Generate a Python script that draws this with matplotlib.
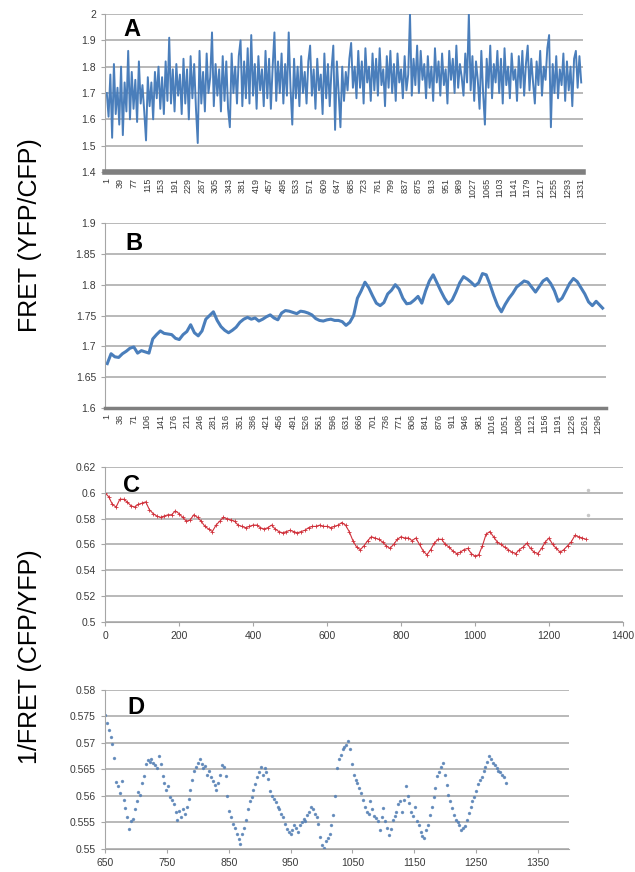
# Four stacked FRET traces (A/B raw and smoothed, C/D inverse ratio)
import numpy as np
import matplotlib
matplotlib.use("Agg")
import matplotlib.pyplot as plt

W, H = 635, 872

# A: raw FRET (YFP/CFP), one value read every 5th frame
a_step = 5
a_vals = [
    1.70, 1.61, 1.77, 1.53, 1.81, 1.62, 1.72, 1.58, 1.80, 1.54, 1.74, 1.63, 1.86, 1.60, 1.78, 1.64, 1.75, 1.59, 1.82, 1.66,
    1.73, 1.63, 1.52, 1.76, 1.65, 1.74, 1.60, 1.78, 1.68, 1.80, 1.64, 1.76, 1.62, 1.82, 1.67, 1.91, 1.66, 1.79, 1.63, 1.81,
    1.69, 1.77, 1.62, 1.83, 1.66, 1.79, 1.60, 1.84, 1.68, 1.81, 1.64, 1.51, 1.86, 1.66, 1.78, 1.63, 1.85, 1.70, 1.76, 1.93,
    1.65, 1.81, 1.69, 1.79, 1.63, 1.84, 1.67, 1.82, 1.64, 1.57, 1.85, 1.70, 1.80, 1.66, 1.84, 1.90, 1.65, 1.82, 1.68, 1.87,
    1.66, 1.92, 1.69, 1.81, 1.64, 1.84, 1.71, 1.79, 1.65, 1.86, 1.68, 1.83, 1.64, 1.80, 1.93, 1.67, 1.82, 1.70, 1.85, 1.66,
    1.81, 1.69, 1.93, 1.72, 1.58, 1.83, 1.68, 1.80, 1.65, 1.84, 1.70, 1.78, 1.66, 1.82, 1.88, 1.69, 1.79, 1.64, 1.83, 1.71,
    1.77, 1.62, 1.85, 1.68, 1.81, 1.65, 1.79, 1.88, 1.56, 1.82, 1.70, 1.57, 1.80, 1.67, 1.78, 1.71, 1.83, 1.89, 1.72, 1.80,
    1.68, 1.86, 1.72, 1.82, 1.66, 1.87, 1.74, 1.80, 1.67, 1.85, 1.71, 1.83, 1.69, 1.87, 1.73, 1.79, 1.65, 1.84, 1.72, 1.86,
    1.70, 1.81, 1.67, 1.85, 1.74, 1.79, 1.68, 1.84, 1.71, 1.77, 2.00, 1.69, 1.83, 1.73, 1.88, 1.70, 1.86, 1.75, 1.81, 1.68,
    1.84, 1.72, 1.80, 1.67, 1.87, 1.74, 1.82, 1.69, 1.85, 1.73, 1.79, 1.66, 1.86, 1.75, 1.83, 1.70, 1.88, 1.72, 1.81, 1.76,
    1.69, 1.85, 1.74, 2.00, 1.71, 1.84, 1.67, 1.82, 1.75, 1.64, 1.86, 1.70, 1.58, 1.83, 1.72, 1.88, 1.68, 1.81, 1.74, 1.86,
    1.70, 1.83, 1.66, 1.87, 1.73, 1.80, 1.68, 1.85, 1.75, 1.79, 1.67, 1.84, 1.72, 1.86, 1.69, 1.81, 1.88, 1.71, 1.83, 1.74,
    1.66, 1.82, 1.73, 1.86, 1.69, 1.80, 1.75, 1.87, 1.92, 1.57, 1.81, 1.70, 1.84, 1.68, 1.79, 1.73, 1.85, 1.67, 1.82, 1.71,
    1.80, 1.65, 1.83, 1.86, 1.72, 1.84, 1.74,
]
a_ticks = list(range(1, 1332, 38))
a_yticks = [1.4, 1.5, 1.6, 1.7, 1.8, 1.9, 2.0]
a_ylabels = ["1.4", "1.5", "1.6", "1.7", "1.8", "1.9", "2"]

# B: smoothed FRET, one value every 10th frame (last one at frame 1308)
b_step = 10
b_last = 1308
b_vals = [
    1.672, 1.688, 1.683, 1.682, 1.688, 1.692, 1.697, 1.699, 1.689, 1.693, 1.691, 1.689, 1.712, 1.719, 1.725, 1.721,
    1.720, 1.719, 1.713, 1.711, 1.719, 1.724, 1.735, 1.722, 1.717, 1.725, 1.744, 1.750, 1.756, 1.742, 1.732, 1.726,
    1.722, 1.726, 1.731, 1.739, 1.744, 1.747, 1.744, 1.746, 1.741, 1.744, 1.748, 1.751, 1.746, 1.743, 1.754, 1.758,
    1.757, 1.755, 1.753, 1.757, 1.756, 1.754, 1.751, 1.745, 1.742, 1.741, 1.743, 1.744, 1.742, 1.742, 1.740, 1.734,
    1.739, 1.750, 1.778, 1.790, 1.804, 1.795, 1.782, 1.770, 1.766, 1.771, 1.785, 1.791, 1.800, 1.793, 1.778, 1.769,
    1.770, 1.775, 1.781, 1.770, 1.790, 1.806, 1.816, 1.803, 1.790, 1.778, 1.769, 1.775, 1.788, 1.803, 1.813, 1.809,
    1.804, 1.798, 1.803, 1.818, 1.816, 1.800, 1.782, 1.766, 1.756, 1.768, 1.778, 1.786, 1.796, 1.801, 1.806, 1.804,
    1.796, 1.788, 1.797, 1.806, 1.810, 1.802, 1.790, 1.773, 1.778, 1.790, 1.802, 1.810, 1.805, 1.795, 1.785, 1.772,
    1.766, 1.773, 1.762,
]
b_ticks = list(range(1, 1297, 35))
b_yticks = [1.6, 1.65, 1.7, 1.75, 1.8, 1.85, 1.9]
b_ylabels = ["1.6", "1.65", "1.7", "1.75", "1.8", "1.85", "1.9"]

# C: 1/FRET (CFP/YFP), one value every 10th frame from frame 0
c_step = 10
c_vals = [
    0.600, 0.597, 0.591, 0.589, 0.595, 0.595, 0.593, 0.590, 0.589, 0.591, 0.592, 0.593, 0.587, 0.584, 0.582, 0.581,
    0.582, 0.583, 0.583, 0.586, 0.584, 0.581, 0.578, 0.579, 0.583, 0.581, 0.578, 0.574, 0.572, 0.570, 0.575, 0.578,
    0.581, 0.580, 0.579, 0.578, 0.575, 0.574, 0.573, 0.574, 0.575, 0.575, 0.573, 0.572, 0.573, 0.575, 0.572, 0.570,
    0.569, 0.570, 0.571, 0.570, 0.569, 0.570, 0.571, 0.573, 0.574, 0.574, 0.575, 0.574, 0.574, 0.573, 0.574, 0.575,
    0.577, 0.575, 0.570, 0.563, 0.558, 0.556, 0.559, 0.563, 0.566, 0.565, 0.564, 0.562, 0.559, 0.557, 0.560, 0.564,
    0.566, 0.565, 0.565, 0.563, 0.565, 0.560, 0.555, 0.552, 0.556, 0.561, 0.564, 0.564, 0.560, 0.558, 0.555, 0.553,
    0.554, 0.556, 0.557, 0.553, 0.551, 0.552, 0.559, 0.568, 0.570, 0.566, 0.562, 0.560, 0.558, 0.556, 0.554, 0.553,
    0.556, 0.558, 0.561, 0.557, 0.554, 0.553, 0.557, 0.562, 0.565, 0.560, 0.557, 0.554, 0.556, 0.559, 0.562, 0.567,
    0.566, 0.565, 0.564,
]
c_stray_x = [1305, 1305]
c_stray_y = [0.602, 0.583]
c_xticks = [0, 200, 400, 600, 800, 1000, 1200, 1400]
c_yticks = [0.5, 0.52, 0.54, 0.56, 0.58, 0.6, 0.62]
c_ylabels = ["0.5", "0.52", "0.54", "0.56", "0.58", "0.6", "0.62"]

# D: close-up of C from frame 650, one point every 3rd frame
d_start = 650
d_step = 3
d_vals = [
    0.5752, 0.5738, 0.5725, 0.5712, 0.5698, 0.5672, 0.5626, 0.5618, 0.5605, 0.5628, 0.5592, 0.5578, 0.5560, 0.5538,
    0.5552, 0.5556, 0.5575, 0.5590, 0.5608, 0.5601, 0.5625, 0.5638, 0.5660, 0.5668, 0.5665, 0.5670, 0.5662, 0.5658,
    0.5652, 0.5676, 0.5660, 0.5638, 0.5625, 0.5612, 0.5618, 0.5598, 0.5592, 0.5585, 0.5570, 0.5555, 0.5572, 0.5560,
    0.5575, 0.5566, 0.5580, 0.5595, 0.5612, 0.5630, 0.5648, 0.5655, 0.5662, 0.5670, 0.5660, 0.5652, 0.5656, 0.5640,
    0.5648, 0.5635, 0.5628, 0.5620, 0.5612, 0.5625, 0.5640, 0.5658, 0.5655, 0.5637, 0.5600, 0.5572, 0.5560, 0.5548,
    0.5540, 0.5528, 0.5518, 0.5510, 0.5528, 0.5540, 0.5555, 0.5575, 0.5590, 0.5598, 0.5612, 0.5622, 0.5635, 0.5645,
    0.5655, 0.5640, 0.5652, 0.5645, 0.5632, 0.5610, 0.5600, 0.5594, 0.5588, 0.5580, 0.5575, 0.5566, 0.5560, 0.5548,
    0.5538, 0.5532, 0.5528, 0.5535, 0.5545, 0.5540, 0.5532, 0.5546, 0.5550, 0.5556, 0.5552, 0.5565, 0.5570, 0.5580,
    0.5575, 0.5566, 0.5560, 0.5548, 0.5522, 0.5508, 0.5502, 0.5515, 0.5520, 0.5528, 0.5545, 0.5565, 0.5600, 0.5652,
    0.5670, 0.5678, 0.5688, 0.5692, 0.5697, 0.5703, 0.5688, 0.5660, 0.5640, 0.5630, 0.5625, 0.5615, 0.5605, 0.5592,
    0.5580, 0.5570, 0.5566, 0.5590, 0.5575, 0.5562, 0.5558, 0.5552, 0.5535, 0.5560, 0.5578, 0.5552, 0.5540, 0.5527,
    0.5538, 0.5555, 0.5562, 0.5570, 0.5585, 0.5590, 0.5570, 0.5592, 0.5618, 0.5600, 0.5587, 0.5570, 0.5562, 0.5580,
    0.5552, 0.5545, 0.5532, 0.5525, 0.5520, 0.5535, 0.5545, 0.5565, 0.5580, 0.5598, 0.5615, 0.5637, 0.5645, 0.5655,
    0.5662, 0.5640, 0.5620, 0.5602, 0.5590, 0.5578, 0.5565, 0.5555, 0.5550, 0.5545, 0.5535, 0.5540, 0.5543, 0.5555,
    0.5568, 0.5580, 0.5590, 0.5598, 0.5610, 0.5622, 0.5630, 0.5635, 0.5648, 0.5655, 0.5665, 0.5676, 0.5670, 0.5662,
    0.5658, 0.5652, 0.5648, 0.5645, 0.5640, 0.5635, 0.5625,
]
d_xticks = [650, 750, 850, 950, 1050, 1150, 1250, 1350]
d_yticks = [0.55, 0.555, 0.56, 0.565, 0.57, 0.575, 0.58]
d_ylabels = ["0.55", "0.555", "0.56", "0.565", "0.57", "0.575", "0.58"]

blue = "#4a7ebb"
red = "#d0303a"
grid_col = "#a6a6a6"
plt.rcParams["font.family"] = ["Liberation Sans", "DejaVu Sans"]

fig = plt.figure(figsize=(W / 100, H / 100), dpi=100)


def panel(l, t, r, b):
    ax = fig.add_axes([l / W, 1 - b / H, (r - l) / W, (b - t) / H])
    ax.spines["top"].set_visible(False)
    ax.spines["right"].set_visible(False)
    ax.spines["left"].set_color(grid_col)
    ax.spines["bottom"].set_color(grid_col)
    ax.yaxis.grid(True, color=grid_col, lw=1.1)
    ax.set_axisbelow(True)
    ax.tick_params(colors=grid_col, labelcolor="#3a3a3a", labelsize=7.5, length=3)
    return ax


# A
ax = panel(105, 14, 583, 172)
x = 1 + a_step * np.arange(len(a_vals))
ax.plot(x, a_vals, color=blue, lw=1.4)
ax.set_xlim(-4, 1336)
ax.set_ylim(1.4, 2.0)
ax.set_yticks(a_yticks, a_ylabels)
ax.set_xticks(a_ticks, [str(t) for t in a_ticks], rotation=90, fontsize=6.5)
ax.tick_params(axis="x", length=0, pad=4)
ax.spines["bottom"].set_color("#7f7f7f")
ax.spines["bottom"].set_linewidth(4)

# B
ax = panel(105, 223, 606, 408)
x = np.append(1 + b_step * np.arange(len(b_vals) - 1), b_last)
ax.plot(x, b_vals, color=blue, lw=2.2)
ax.set_xlim(-5, 1317)
ax.set_ylim(1.6, 1.9)
ax.set_yticks(b_yticks, b_ylabels)
ax.set_xticks(b_ticks, [str(t) for t in b_ticks], rotation=90, fontsize=6.5)
ax.tick_params(axis="x", length=0, pad=4)
ax.spines["bottom"].set_color("#7f7f7f")
ax.spines["bottom"].set_linewidth(2.5)

# C
ax = panel(105, 467, 623, 622)
x = c_step * np.arange(len(c_vals))
ax.plot(x, c_vals, color=red, lw=0.8, marker="+", ms=2.2, mew=0.6)
ax.plot(c_stray_x, c_stray_y, ls="none", marker="o", ms=1.5, color="#c8c8c8")
ax.set_xlim(0, 1400)
ax.set_ylim(0.5, 0.62)
ax.set_yticks(c_yticks, c_ylabels)
ax.set_xticks(c_xticks, [str(t) for t in c_xticks])

# D
ax = panel(105, 690, 569, 849)
x = d_start + d_step * np.arange(len(d_vals))
ax.plot(x, d_vals, ls="none", marker="o", ms=1.4, color="#5580b5", alpha=0.8)
ax.set_xlim(650, 1400)
ax.set_ylim(0.55, 0.58)
ax.set_yticks(d_yticks, d_ylabels)
ax.set_xticks(d_xticks, [str(t) for t in d_xticks])

# panel letters
for letter, px, py in [("A", 123, 29), ("B", 125, 243), ("C", 123, 485), ("D", 127, 707)]:
    fig.text(px / W, 1 - py / H, letter, fontsize=17, fontweight="bold", va="center", ha="left")

# shared y labels
fig.text(30 / W, 1 - 235 / H, "FRET (YFP/CFP)", rotation=90, fontsize=18, va="center", ha="center")
fig.text(30 / W, 1 - 657 / H, "1/FRET (CFP/YFP)", rotation=90, fontsize=18, va="center", ha="center")

fig.savefig("out.png", dpi=100)
